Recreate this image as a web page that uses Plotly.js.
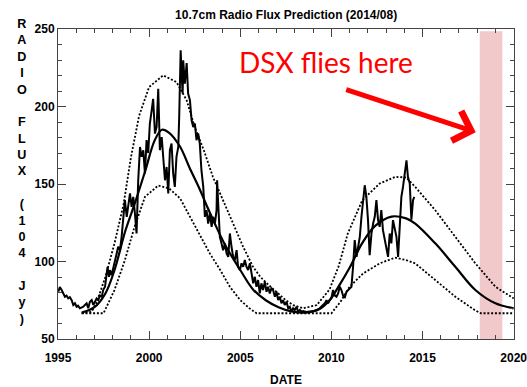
<!DOCTYPE html>
<html>
<head>
<meta charset="utf-8">
<script src="https://cdn.plot.ly/plotly-3.0.1.min.js"></script>
<style>html,body{margin:0;padding:0;background:#fff;}#chart{width:527px;height:387px;}</style>
</head>
<body>
<div id="chart"></div>
<script>
// Observed 10.7cm radio flux
const dataYears = [1995.02,1995.1,1995.2,1995.3,1995.38,1995.47,1995.56,1995.65,1995.75,1995.84,1995.93,1996.02,1996.1,1996.2,1996.3,1996.39,1996.48,1996.57,1996.66,1996.75,1996.85,1996.94,1997.03,1997.12,1997.21,1997.3,1997.4,1997.48,1997.58,1997.67,1997.72,1997.8,1997.85,1997.94,1998.03,1998.12,1998.22,1998.3,1998.4,1998.49,1998.58,1998.67,1998.77,1998.85,1998.95,1999.04,1999.13,1999.22,1999.31,1999.4,1999.5,1999.59,1999.68,1999.77,1999.86,1999.95,2000.04,2000.14,2000.22,2000.32,2000.41,2000.5,2000.59,2000.69,2000.77,2000.87,2000.96,2001.05,2001.14,2001.23,2001.32,2001.41,2001.5,2001.6,2001.65,2001.69,2001.73,2001.78,2001.84,2001.87,2001.96,2002.06,2002.14,2002.24,2002.33,2002.42,2002.51,2002.6,2002.69,2002.78,2002.87,2002.97,2003.06,2003.15,2003.24,2003.33,2003.43,2003.51,2003.61,2003.7,2003.73,2003.79,2003.84,2003.88,2003.97,2004.06,2004.16,2004.25,2004.34,2004.43,2004.52,2004.61,2004.7,2004.8,2004.88,2004.98,2005.07,2005.16,2005.25,2005.34,2005.43,2005.53,2005.62,2005.71,2005.8,2005.89,2005.98,2006.07,2006.16,2006.25,2006.35,2006.44,2006.53,2006.62,2006.71,2006.8,2006.9,2006.99,2007.08,2007.17,2007.26,2007.35,2007.44,2007.54,2007.63,2007.72,2007.81,2007.9,2007.99,2008.09,2008.17,2008.27,2008.36,2008.45,2008.63,2008.82,2009.0,2009.18,2009.36,2009.54,2009.64,2009.73,2009.82,2009.91,2010.0,2010.09,2010.19,2010.28,2010.37,2010.46,2010.55,2010.64,2010.74,2010.83,2010.95,2011.1,2011.19,2011.28,2011.38,2011.46,2011.56,2011.65,2011.74,2011.83,2011.92,2012.01,2012.1,2012.2,2012.29,2012.38,2012.47,2012.56,2012.65,2012.74,2012.83,2012.93,2013.02,2013.11,2013.2,2013.29,2013.38,2013.48,2013.57,2013.66,2013.75,2013.84,2013.93,2014.02,2014.12,2014.2,2014.3,2014.39,2014.48,2014.55];
const dataFlux = [80.5,83.5,81.6,79,77.3,78,76.2,77,75.1,71.9,73,70.8,71.5,69.8,70.5,70.8,72,73,69.8,74,75.1,71.9,74,76.2,75.1,78,77.3,81.6,83.7,93.4,96.6,90.1,94.5,91.2,95.5,98.8,105.2,109.5,107.3,115.9,126.7,139.6,128.8,137.4,143.9,135.2,141.7,131,118.1,152,173.9,167.5,171.8,156.8,178.3,170,189,197.5,205,182.5,186.8,211.5,171.8,180.3,165.3,152.4,161,143.9,171.8,176.1,156.8,148.1,167.5,173.9,193.2,210.4,236.2,221.2,208.3,229.8,214.7,228,208.3,204,191.1,186.8,189,178.3,182.6,176.1,158.9,148.1,128.8,133.1,124.5,131,122.4,128.8,124.5,133.1,152.4,137.4,128.8,115.9,111.7,107.3,111.7,105.2,103,118.1,109.5,103,100.9,107.3,96.6,94.5,98.8,96.6,100.9,96.6,94.5,98.8,92.3,85.9,90.1,83.7,88,79.4,85.9,81.6,86.9,80.5,83.7,79.4,82.7,81.6,77.3,80.5,75.1,77.3,73,75.1,71.9,74,69.8,70.8,67.6,69.8,68.7,70.8,67.6,68.7,67.6,68,67.4,67.6,68,68.7,69.8,71.9,73,75.1,73,75.1,76.2,81.6,78,77.3,79.4,83.7,81.6,78,77,80.5,82,83.7,96.6,113.8,103,109.5,115.9,128.8,139.6,149.2,141.7,126.7,104.1,118.1,124.5,128.8,139.6,126.7,122.4,133.1,120.2,113.8,107.3,103,118.1,111.7,126.7,120.2,115.9,103,126.7,141.7,148.1,156.8,165.3,154.6,150.3,127,139.6,141.7];

// Predicted flux (solid)
const modelYears = [1996.3,1997.0,1997.6,1998.1,1998.7,1999.2,1999.8,2000.3,2000.7,2001.1,2001.7,2002.2,2002.8,2003.2,2003.7,2004.2,2005.0,2005.7,2006.4,2007.1,2007.8,2008.6,2009.3,2009.9,2010.4,2011.0,2011.7,2012.4,2013.3,2014.1,2014.6,2015.7,2016.8,2017.9,2019.0,2020.0];
const modelFlux = [67,70.5,79.4,94.5,120,137,159,178,185,183,174,161,146,135,122,110,94.5,82,75,70.5,67.8,67,69,75,84,96,112,123,129,127.8,124.5,111.7,96.6,81.6,73,69.8];

// Upper bound (dotted)
const upperYears = [1996.3,1996.85,1997.1,1997.6,1998.1,1998.6,1999.0,1999.45,2000.0,2000.77,2001.5,2002.06,2002.5,2003.0,2003.5,2004.06,2004.6,2005.16,2005.7,2006.1,2006.45,2007.0,2007.5,2007.9,2008.45,2009.2,2009.9,2010.4,2010.9,2011.7,2012.65,2013.5,2014.1,2014.6,2015.7,2016.8,2017.9,2019.0,2020.0];
const upperFlux = [66.6,67.6,73,90,111.7,137,167,194,212.6,220.1,215.8,204,186.8,171.8,154.6,139.6,124.5,109.5,96.6,90.1,86,80,75,71.9,69.8,71.9,82,97,118,139.6,150.3,154.6,154.2,148.1,133.1,115.9,98.8,83.7,76.2];

// Lower bound (dotted)
const lowerYears = [1996.3,1997.5,1998.1,1998.67,1999.2,1999.77,2000.5,2001.1,2001.7,2002.24,2002.8,2003.33,2003.9,2004.43,2005.0,2005.5,2005.9,2010.0,2010.5,2011.0,2011.74,2012.65,2013.5,2014.1,2014.6,2015.7,2016.8,2017.86,2018.2,2020.0];
const lowerFlux = [66.6,66.6,81.6,100.9,122.4,141.7,149,147.1,140.7,128.8,115.9,105.2,94.5,83.7,75.1,69.8,66.6,66.6,74,83.7,92.3,98.8,102.5,100.9,98.8,88,77.3,68.7,66.6,66.6];

const xTickVals = [1995,2000,2005,2010,2015,2020];
const yTickVals = [50,100,150,200,250];
const yLabelChars = ['R','A','D','I','O','','F','L','U','X','','(','1','0','4','','J','y',')'];

const dotted = {color:'#000', width:1.8, dash:'2px,1.8px'};
const traces = [
  {x:upperYears, y:upperFlux, mode:'lines', line:dotted, hoverinfo:'skip', cliponaxis:false},
  {x:lowerYears, y:lowerFlux, mode:'lines', line:dotted, hoverinfo:'skip'},
  {x:modelYears, y:modelFlux, mode:'lines', line:{color:'#000', width:2.2, shape:'spline'}, hoverinfo:'skip'},
  {x:dataYears, y:dataFlux, mode:'lines', line:{color:'#000', width:2}, hoverinfo:'skip'}
];

const boldFont = {family:'Arial, "Liberation Sans", sans-serif', size:12, color:'#000', weight:'bold'};
const axisCommon = {
  showgrid:false, zeroline:false, showline:true, linecolor:'#444', linewidth:1,
  mirror:'ticks', ticks:'inside', ticklen:8, tickcolor:'#444', tickwidth:1,
  tickfont:boldFont, automargin:false
};

const layout = {
  width:527, height:387,
  margin:{l:58, r:13, t:29, b:48},
  paper_bgcolor:'#fff', plot_bgcolor:'rgba(0,0,0,0)',
  showlegend:false,
  title:{text:'10.7cm Radio Flux Prediction (2014/08)', font:boldFont, x:0.543, xanchor:'center', y:0.962, yanchor:'middle'},
  xaxis:Object.assign({}, axisCommon, {
    range:[1995,2020.02], tickvals:xTickVals, ticktext:xTickVals.map(String),
    ticklabelstandoff:8, ticklabeloverflow:'allow',
    minor:{dtick:1, tick0:1995, ticks:'inside', ticklen:4, tickcolor:'#444', showgrid:false},
    title:{text:'DATE', font:boldFont, standoff:14}
  }),
  yaxis:Object.assign({}, axisCommon, {
    range:[50,250], tickvals:yTickVals, ticktext:yTickVals.map(String),
    minor:{dtick:10, tick0:50, ticks:'inside', ticklen:4, tickcolor:'#444', showgrid:false}
  }),
  shapes:[{type:'rect', xref:'x', yref:'paper', x0:2018.14, x1:2019.38, y0:0, y1:0.993,
    fillcolor:'#f2c9cb', line:{width:0}, layer:'below'}],
  annotations:[
    {xref:'paper', yref:'paper', x:-0.079, y:0.541, xanchor:'center', yanchor:'middle', showarrow:false,
     text:yLabelChars.join('<br>'), font:Object.assign({}, boldFont, {size:12.6})},
    {xref:'x', yref:'y', x:2009.69, y:229, xanchor:'center', yanchor:'middle', showarrow:false,
     text:'DSX flies here', font:{family:'Lato, "Noto Sans", sans-serif', size:28, color:'#ff0000'}},
    {xref:'x', yref:'y', x:2017.92, y:183.4, ax:-131, ay:-43, axref:'pixel', ayref:'pixel', text:'',
     showarrow:true, arrowhead:4, arrowsize:1.2, arrowwidth:5, arrowcolor:'#ff0000'}
  ]
};

Plotly.newPlot('chart', traces, layout, {staticPlot:true, displayModeBar:false});
</script>
</body>
</html>
